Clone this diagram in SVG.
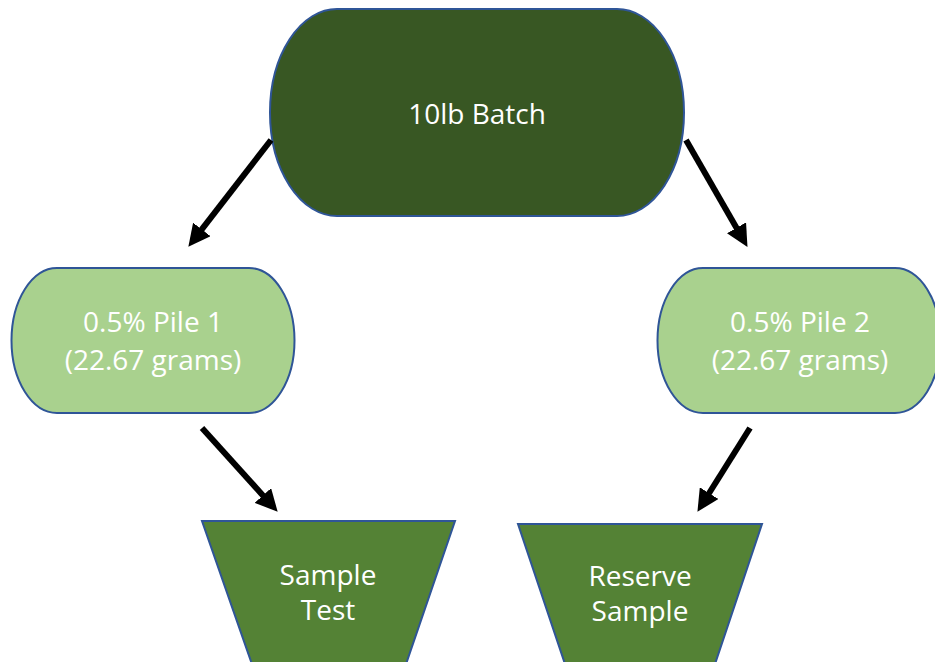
<svg xmlns="http://www.w3.org/2000/svg" width="935" height="662" viewBox="0 0 935 662">
  <style>
    .lbl { font-family: "Open Sans", "Liberation Sans", sans-serif; font-size: 28px; fill: #ffffff; text-anchor: middle; }
    .edge { stroke: #2F5597; stroke-width: 2; }
    .arrow { stroke: #000000; stroke-width: 6; fill: none; marker-end: url(#head); }
  </style>
  <defs>
    <marker id="head" markerUnits="userSpaceOnUse" viewBox="0 0 22 22" refX="1" refY="11" markerWidth="22" markerHeight="22" orient="auto">
      <path d="M0,0 L22,11 L0,22 z" fill="#000000"/>
    </marker>
  </defs>

  <!-- terminator: 10lb Batch -->
  <g id="batch">
    <path class="edge" fill="#385723" d="M337,9 L617,9 A67,103.5 0 0 1 617,216 L337,216 A67,103.5 0 0 1 337,9 Z"/>
    <text class="lbl" x="477" y="124">10lb Batch</text>
  </g>

  <!-- pile 1 -->
  <g id="pile1">
    <path class="edge" fill="#A9D18E" d="M57,268 L249,268 A45.5,72.5 0 0 1 249,413 L57,413 A45.5,72.5 0 0 1 57,268 Z"/>
    <text class="lbl" x="153" y="332">0.5% Pile 1</text>
    <text class="lbl" x="153" y="370">(22.67 grams)</text>
  </g>

  <!-- pile 2 -->
  <g id="pile2">
    <path class="edge" fill="#A9D18E" d="M703,268 L895,268 A45.5,72.5 0 0 1 895,413 L703,413 A45.5,72.5 0 0 1 703,268 Z"/>
    <text class="lbl" x="800" y="332">0.5% Pile 2</text>
    <text class="lbl" x="800" y="370">(22.67 grams)</text>
  </g>

  <!-- sample test -->
  <g id="sampleTest">
    <polygon class="edge" fill="#548235" points="202,521 455,521 404,670 254,670"/>
    <text class="lbl" x="328" y="585">Sample</text>
    <text class="lbl" x="328" y="620">Test</text>
  </g>

  <!-- reserve sample -->
  <g id="reserveSample">
    <polygon class="edge" fill="#548235" points="518,524 762,524 713,670 567,670"/>
    <text class="lbl" x="640" y="586">Reserve</text>
    <text class="lbl" x="640" y="621">Sample</text>
  </g>

  <!-- connectors -->
  <g id="connectors">
    <line class="arrow" x1="271" y1="140" x2="201.2" y2="230.2"/>
    <line class="arrow" x1="686" y1="140" x2="737" y2="228.7"/>
    <line class="arrow" x1="202" y1="428" x2="263.6" y2="496.2"/>
    <line class="arrow" x1="750" y1="428" x2="708.6" y2="494"/>
  </g>
</svg>
